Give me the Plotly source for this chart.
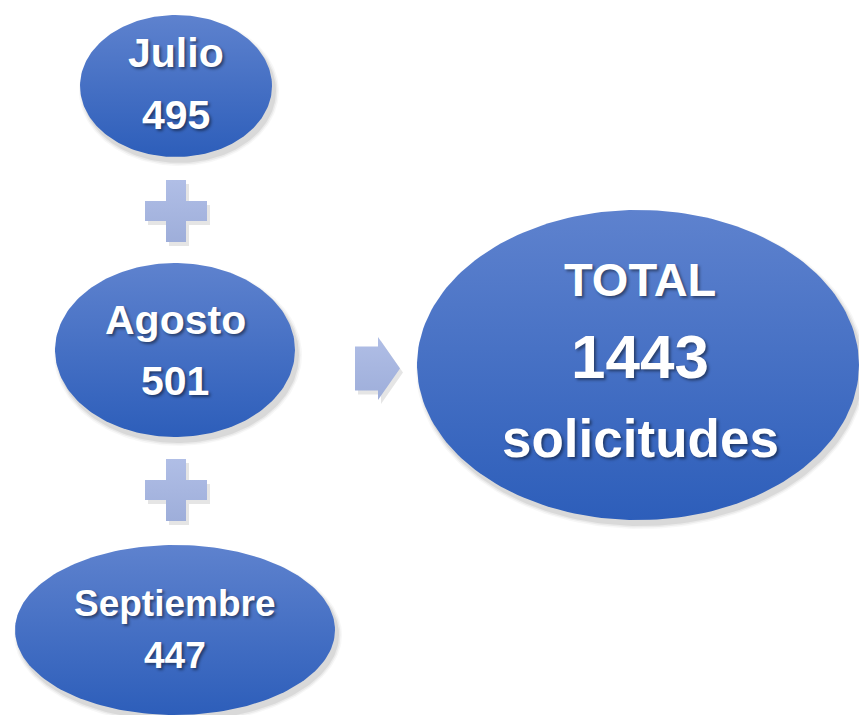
import numpy as np
import plotly.graph_objects as go

# ---- data ----
months = ["Julio", "Agosto", "Septiembre"]
requests = [495, 501, 447]
total_label = "TOTAL"
total_unit = "solicitudes"
total_value = sum(requests)  # 1443

# ---- layout geometry (pixels) ----
W, H = 859, 715
month_ellipses = [(176, 86, 96, 71), (175, 350, 120, 87), (175, 630, 160, 85)]
month_label_y = [53, 320, 603]
month_value_y = [115, 381, 655]
month_font = [41, 41, 37]
total_ellipse = (638, 365, 221, 155)
plus_centers = [(176, 211), (176, 490)]
arrow_box = (355, 337, 400, 400)

TOP = "rgb(94,130,206)"
BOT = "rgb(45,94,186)"
PLUS_TOP = "rgb(176,190,230)"
PLUS_BOT = "rgb(158,174,218)"
FONT = "Liberation Sans, Arial, sans-serif"
SHADOW = "2px 2px 3px rgba(0,0,0,0.45)"

fig = go.Figure()
t = np.linspace(0, 2 * np.pi, 200)


def ellipse(cx, cy, rx, ry):
    # soft shadow
    for k, a in [(8, 0.03), (5, 0.05), (2, 0.07)]:
        fig.add_trace(go.Scatter(
            x=cx + 3 + (rx + k / 2) * np.cos(t), y=cy + 5 + (ry + k / 2) * np.sin(t),
            mode="lines", line=dict(width=0), fill="toself",
            fillcolor=f"rgba(0,0,0,{a})", hoverinfo="skip"))
    fig.add_trace(go.Scatter(
        x=cx + rx * np.cos(t), y=cy + ry * np.sin(t),
        mode="lines", line=dict(width=0), fill="toself",
        fillgradient=dict(type="vertical", colorscale=[[0, TOP], [1, BOT]],
                          start=cy - ry, stop=cy + ry),
        hoverinfo="skip"))


def poly(xs, ys, y0, y1):
    fig.add_trace(go.Scatter(
        x=[v + 3 for v in xs], y=[v + 4 for v in ys], mode="lines", line=dict(width=0),
        fill="toself", fillcolor="rgba(0,0,0,0.10)", hoverinfo="skip"))
    fig.add_trace(go.Scatter(
        x=xs, y=ys, mode="lines", line=dict(width=0), fill="toself",
        fillgradient=dict(type="vertical", colorscale=[[0, PLUS_TOP], [1, PLUS_BOT]],
                          start=y0, stop=y1),
        hoverinfo="skip"))


for (cx, cy, rx, ry) in month_ellipses:
    ellipse(cx, cy, rx, ry)
ellipse(*total_ellipse)

# plus signs
for (cx, cy) in plus_centers:
    a, b = 31, 10
    xs = [cx - b, cx + b, cx + b, cx + a, cx + a, cx + b, cx + b, cx - b, cx - b, cx - a, cx - a, cx - b, cx - b]
    ys = [cy - a, cy - a, cy - b, cy - b, cy + b, cy + b, cy + a, cy + a, cy + b, cy + b, cy - b, cy - b, cy - a]
    poly(xs, ys, cy - a, cy + a)

# arrow
x0, y0, x1, y1 = arrow_box
ym = (y0 + y1) / 2
sx = 378
xs = [x0, sx, sx, x1, sx, sx, x0, x0]
ys = [ym - 22, ym - 22, y0, ym, y1, ym + 22, ym + 22, ym - 22]
poly(xs, ys, y0, y1)

# text
for i, m in enumerate(months):
    cx = month_ellipses[i][0]
    fig.add_annotation(x=cx, y=month_label_y[i], text=f"<b>{m}</b>", showarrow=False,
                       font=dict(family=FONT, size=month_font[i], color="white", shadow=SHADOW),
                       xanchor="center", yanchor="middle")
    fig.add_annotation(x=cx, y=month_value_y[i], text=f"<b>{requests[i]}</b>", showarrow=False,
                       font=dict(family=FONT, size=month_font[i], color="white", shadow=SHADOW),
                       xanchor="center", yanchor="middle")

tcx = 640
fig.add_annotation(x=tcx, y=279, text=f"<b>{total_label}</b>", showarrow=False,
                   font=dict(family=FONT, size=47, color="white", shadow=SHADOW))
fig.add_annotation(x=tcx, y=356, text=f"<b>{total_value}</b>", showarrow=False,
                   font=dict(family=FONT, size=62, color="white", shadow=SHADOW))
fig.add_annotation(x=tcx, y=438, text=f"<b>{total_unit}</b>", showarrow=False,
                   font=dict(family=FONT, size=53, color="white", shadow=SHADOW))

fig.update_layout(
    width=W, height=H, margin=dict(l=0, r=0, t=0, b=0),
    paper_bgcolor="white", plot_bgcolor="white", showlegend=False, hovermode=False,
    xaxis=dict(range=[0, W], visible=False, fixedrange=True),
    yaxis=dict(range=[H, 0], visible=False, fixedrange=True),
)
fig.write_html("out.html", config={"displayModeBar": False},
               post_script="document.body.style.margin='0px';document.body.style.overflow='hidden';")
